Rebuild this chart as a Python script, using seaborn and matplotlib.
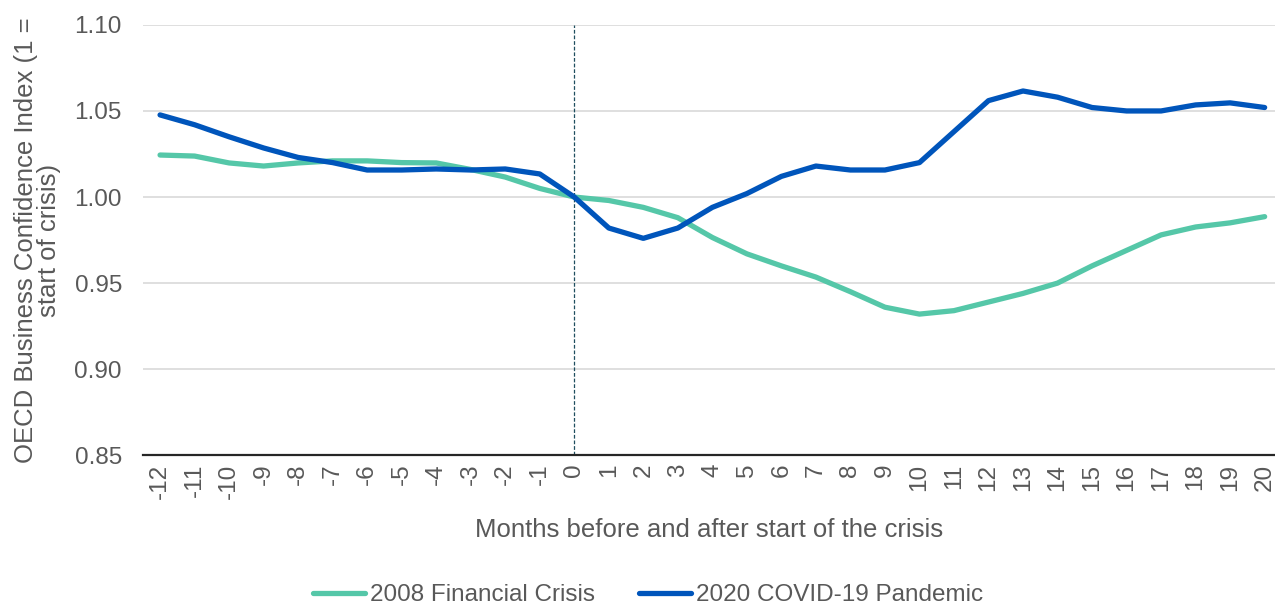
import matplotlib
matplotlib.use("Agg")
import matplotlib.pyplot as plt
import numpy as np
import pandas as pd
import seaborn as sns

MONTHS = list(range(-12, 21))
CRISIS_2008 = [1.0244, 1.0238, 1.0198, 1.0180, 1.0198, 1.0210, 1.0210, 1.0200, 1.0198,
               1.0160, 1.0116, 1.0050, 1.0000, 0.9980, 0.9940, 0.9880, 0.9765, 0.9670,
               0.9600, 0.9535, 0.9450, 0.9360, 0.9320, 0.9340, 0.9390, 0.9440, 0.9500,
               0.9600, 0.9690, 0.9780, 0.9826, 0.9850, 0.9886]
COVID_2020 = [1.0477, 1.0420, 1.0350, 1.0285, 1.0230, 1.0200, 1.0157, 1.0157, 1.0163,
              1.0157, 1.0163, 1.0134, 1.0000, 0.9820, 0.9760, 0.9820, 0.9940, 1.0020,
              1.0120, 1.0180, 1.0157, 1.0157, 1.0200, 1.0380, 1.0560, 1.0616, 1.0580,
              1.0520, 1.0500, 1.0500, 1.0535, 1.0547, 1.0520]
SERIES = ["2008 Financial Crisis", "2020 COVID-19 Pandemic"]
PALETTE = {SERIES[0]: "#55C7A8", SERIES[1]: "#0055BB"}
Y_TICKS = [0.85, 0.90, 0.95, 1.00, 1.05, 1.10]

sns.set_theme(style="white")
plt.rcParams["font.family"] = ["Liberation Sans", "DejaVu Sans"]
GREY = "#595959"

df = pd.DataFrame({
    "month": MONTHS * 2,
    "value": CRISIS_2008 + COVID_2020,
    "series": [SERIES[0]] * len(MONTHS) + [SERIES[1]] * len(MONTHS),
})

fig = plt.figure(figsize=(12.75, 6.07), dpi=100)
ax = fig.add_axes([0.112, 0.250, 0.888, 0.709])

for y in Y_TICKS[1:]:
    ax.axhline(y, color="#D9D9D9", lw=1.2, zorder=0)
ax.axvline(0, color="#1F4E5F", lw=0.9, ls=(0, (3, 1.5)), zorder=1)

sns.lineplot(data=df, x="month", y="value", hue="series", palette=PALETTE,
             ax=ax, linewidth=3.8, legend=True, zorder=3)
for line in ax.lines:
    line.set_solid_capstyle("round")

ax.set_xlim(-12.5, 20.3)
ax.set_ylim(0.85, 1.10)
ax.set_xticks(MONTHS)
ax.set_xticklabels([str(m) for m in MONTHS], rotation=90, color=GREY, fontsize=17.5)
ax.set_yticks(Y_TICKS)
ax.set_yticklabels([f"{v:.2f}" for v in Y_TICKS], color=GREY, fontsize=17.5)
ax.tick_params(axis="x", length=0, pad=6)
ax.tick_params(axis="y", length=0, pad=15)

for side in ["top", "right", "left"]:
    ax.spines[side].set_visible(False)
ax.spines["bottom"].set_color("#262626")
ax.spines["bottom"].set_linewidth(1.6)

ax.set_xlabel("Months before and after start of the crisis", color=GREY,
              fontsize=18.5, labelpad=14)
ax.set_ylabel("OECD Business Confidence Index (1 =\nstart of crisis)", color=GREY,
              fontsize=18.5, labelpad=10, linespacing=0.95)

handles, labels = ax.get_legend_handles_labels()
ax.legend(handles, labels, loc="center", bbox_to_anchor=(0.446, -0.325),
          ncol=2, frameon=False, fontsize=17.5, labelcolor=GREY,
          handlelength=2.15, handletextpad=0.2, columnspacing=1.8)

fig.savefig("out.png", dpi=100)
